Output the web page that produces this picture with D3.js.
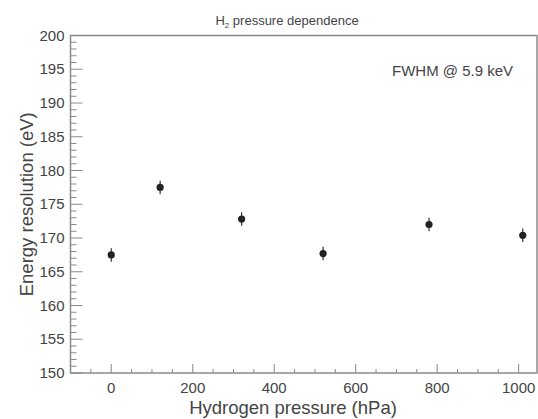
<!DOCTYPE html>
<html lang="en">
<head>
	<meta charset="UTF-8">
	<title>H2 pressure dependence</title>
	<script src="https://d3js.org/d3.v7.min.js"></script>
	<style>
		body { margin: 0; background: #fff; font-family: "Liberation Sans", Arial, sans-serif; }
		text { fill: #444; }
	</style>
</head>
<body>
<div id="chart"></div>
<script>
	// data
	const pressure = [0, 120, 320, 520, 780, 1010];
	const resolution = [167.5, 177.5, 172.8, 167.7, 172.0, 170.4];
	const errors = [1.0, 1.0, 1.0, 1.0, 1.0, 1.0];
	const xTicks = [0, 200, 400, 600, 800, 1000];
	const yTicks = [150, 155, 160, 165, 170, 175, 180, 185, 190, 195, 200];

	const W = 538, H = 419;
	const plotLeft = 70.5, plotRight = 537, plotTop = 35.5, plotBottom = 373;

	const svg = d3.select("#chart").append("svg")
		.attr("width", W)
		.attr("height", H);

	const x = d3.scaleLinear().domain([-100, 1045]).range([plotLeft, plotRight]);
	const y = d3.scaleLinear().domain([150, 200]).range([plotBottom, plotTop]);

	const axisColor = "#8a8a8a";

	// frame
	svg.append("rect")
		.attr("x", plotLeft).attr("y", plotTop)
		.attr("width", plotRight - plotLeft).attr("height", plotBottom - plotTop)
		.attr("fill", "none")
		.attr("stroke", axisColor)
		.attr("stroke-width", 1.5);

	// y minor + major ticks (inward)
	const yMinor = d3.range(150, 200.01, 1);
	svg.append("g").selectAll("line")
		.data(yMinor)
		.join("line")
		.attr("x1", plotLeft)
		.attr("x2", d => plotLeft + (d % 5 === 0 ? 12 : 6))
		.attr("y1", d => y(d))
		.attr("y2", d => y(d))
		.attr("stroke", axisColor)
		.attr("stroke-width", 1);

	svg.append("g").selectAll("text")
		.data(yTicks)
		.join("text")
		.attr("x", plotLeft - 6)
		.attr("y", d => y(d) + 5)
		.attr("text-anchor", "end")
		.style("font-size", "15px")
		.text(d => d);

	// x minor + major ticks (inward)
	const xMinor = d3.range(-50, 1045, 50);
	svg.append("g").selectAll("line")
		.data(xMinor)
		.join("line")
		.attr("x1", d => x(d))
		.attr("x2", d => x(d))
		.attr("y1", plotBottom)
		.attr("y2", d => plotBottom - (d % 200 === 0 ? 9 : 4))
		.attr("stroke", axisColor)
		.attr("stroke-width", 1);

	svg.append("g").selectAll("text")
		.data(xTicks)
		.join("text")
		.attr("x", d => x(d))
		.attr("y", plotBottom + 20)
		.attr("text-anchor", "middle")
		.style("font-size", "15px")
		.text(d => d);

	// error bars
	svg.append("g").selectAll("line")
		.data(pressure)
		.join("line")
		.attr("x1", d => x(d))
		.attr("x2", d => x(d))
		.attr("y1", (d, i) => y(resolution[i] - errors[i]))
		.attr("y2", (d, i) => y(resolution[i] + errors[i]))
		.attr("stroke", "#333")
		.attr("stroke-width", 1.2);

	// points
	svg.append("g").selectAll("circle")
		.data(pressure)
		.join("circle")
		.attr("cx", d => x(d))
		.attr("cy", (d, i) => y(resolution[i]))
		.attr("r", 3.6)
		.attr("fill", "#222");

	// titles
	const title = svg.append("text")
		.attr("x", 287)
		.attr("y", 25)
		.attr("text-anchor", "middle")
		.style("font-size", "13px");
	title.append("tspan").text("H");
	title.append("tspan").attr("dy", 3).style("font-size", "8px").text("2");
	title.append("tspan").attr("dy", -3).text(" pressure dependence");

	svg.append("text")
		.attr("x", 293)
		.attr("y", 414)
		.attr("text-anchor", "middle")
		.style("font-size", "18.5px")
		.text("Hydrogen pressure (hPa)");

	svg.append("text")
		.attr("transform", `translate(33, ${(plotTop + plotBottom) / 2}) rotate(-90)`)
		.attr("text-anchor", "middle")
		.style("font-size", "18.5px")
		.text("Energy resolution (eV)");

	svg.append("text")
		.attr("x", 392)
		.attr("y", 76)
		.style("font-size", "15px")
		.text("FWHM @ 5.9 keV");
</script>
</body>
</html>
